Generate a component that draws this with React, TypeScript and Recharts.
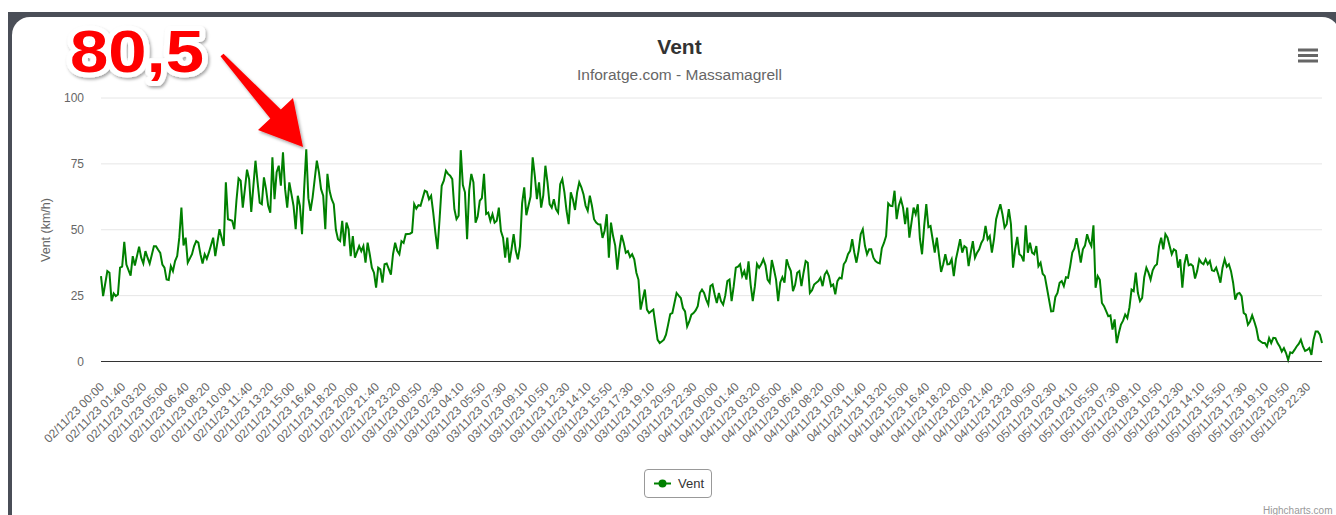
import React from 'react';
import { LineChart, Line, XAxis, YAxis, CartesianGrid } from 'recharts';

// [10-minute slot index, wind km/h]
const day02: [number, number][] = [
  [0, 32.4], [1, 24.8], [3, 34.3], [4, 33.7], [5, 22.9], [6, 25.8], [7, 24.8], [8, 25.4], [9, 35.6], [10, 36.0],
  [11, 45.4], [12, 36.8], [14, 32.6], [15, 40.0], [16, 36.4], [18, 43.6], [19, 39.4], [20, 37.2], [21, 41.9], [22, 39.4],
  [23, 37.2], [25, 43.7], [26, 43.7], [27, 42.4], [28, 41.2], [29, 36.8], [30, 35.6], [31, 31.1], [32, 30.9], [33, 36.2],
  [34, 34.3], [35, 38.1], [36, 40.0], [37, 47.0], [38, 58.4], [39, 44.0], [40, 47.0], [41, 37.5], [43, 40.7], [44, 43.8],
  [45, 45.7], [46, 45.1], [47, 40.7], [48, 37.2], [49, 40.7], [50, 39.0], [51, 41.4], [53, 47.0], [54, 40.0], [55, 45.1],
  [56, 50.2], [58, 43.8], [59, 68.0], [60, 54.0], [62, 53.4], [63, 50.2], [64, 61.0], [65, 69.5], [66, 68.6], [67, 58.4],
  [68, 65.4], [69, 72.8], [70, 69.2], [71, 56.8], [73, 76.2], [74, 68.0], [75, 60.3], [76, 59.7], [77, 69.9], [78, 65.4],
  [79, 59.1], [80, 56.5], [81, 77.5], [82, 61.6], [83, 71.8], [84, 74.3], [85, 66.7], [86, 79.4], [87, 65.4], [88, 58.4],
  [89, 68.0], [90, 63.5], [91, 59.0], [92, 50.2], [93, 62.9], [94, 59.1], [95, 48.3], [96, 65.4], [97, 80.5], [98, 62.0],
  [99, 57.2], [100, 62.3], [102, 76.2], [103, 71.8], [104, 65.4], [105, 62.9], [106, 50.2], [107, 71.2], [108, 64.8], [109, 61.6],
  [110, 59.7], [111, 50.0], [112, 46.4], [113, 45.7], [114, 53.4], [115, 43.8], [116, 52.7], [117, 50.2], [118, 40.0], [119, 47.6],
  [120, 39.4], [122, 43.8], [123, 41.9], [124, 43.8], [125, 37.5], [126, 45.1], [127, 40.7], [128, 35.6], [129, 33.7], [130, 28.0],
  [131, 35.6], [132, 35.0], [133, 29.9], [134, 36.9], [135, 37.2], [137, 33.0], [138, 40.7], [139, 45.1], [140, 42.0], [141, 40.7],
  [142, 45.7], [143, 45.0], [144, 48.3],
];

const day03: [number, number][] = [
  [146, 48.5], [147, 49.0], [148, 59.7], [149, 58.0], [150, 59.3], [151, 59.1], [153, 64.8], [154, 64.4], [155, 61.6], [156, 62.9],
  [157, 56.5], [158, 49.0], [159, 42.6], [160, 54.0], [161, 66.7], [162, 68.6], [163, 72.4], [164, 71.2], [165, 70.5], [166, 69.2],
  [167, 57.8], [168, 54.0], [169, 55.3], [170, 80.2], [171, 67.0], [172, 64.2], [173, 46.4], [174, 65.0], [175, 71.2], [176, 68.0],
  [177, 52.7], [178, 55.0], [179, 61.0], [180, 62.0], [181, 71.2], [182, 56.0], [183, 56.5], [184, 53.4], [185, 55.9], [186, 52.7],
  [187, 53.4], [188, 58.4], [189, 49.5], [190, 47.0], [191, 39.4], [192, 47.0], [193, 37.5], [194, 42.6], [195, 48.3], [196, 42.0],
  [197, 38.8], [198, 43.8], [199, 60.0], [200, 66.1], [201, 55.5], [202, 59.1], [203, 62.6], [204, 77.5], [205, 70.5], [206, 61.6],
  [207, 68.0], [208, 58.4], [209, 63.0], [210, 74.3], [211, 68.0], [212, 59.7], [213, 58.4], [214, 61.6], [215, 57.8], [216, 56.5],
  [217, 67.3], [218, 69.2], [219, 64.2], [220, 57.2], [221, 52.1], [222, 64.2], [223, 61.6], [224, 57.5], [225, 64.2], [226, 68.0],
  [227, 66.1], [228, 63.5], [229, 59.1], [230, 57.2], [231, 62.9], [232, 59.1], [233, 54.0], [234, 52.7], [235, 52.1], [236, 52.0],
  [237, 46.9], [238, 49.6], [239, 55.9], [240, 39.4], [241, 52.7], [242, 47.6], [243, 44.0], [244, 34.9], [245, 42.6], [246, 48.0],
  [247, 45.1], [248, 41.3], [249, 41.9], [250, 39.7], [251, 40.7], [252, 38.8], [253, 33.7], [254, 31.0], [255, 19.7], [256, 23.5],
  [257, 27.3], [258, 19.7], [259, 18.4], [260, 19.1], [261, 19.7], [262, 14.0], [263, 8.3], [264, 7.0], [265, 7.6], [266, 8.3],
  [267, 10.2], [268, 14.0], [269, 18.0], [270, 18.4], [271, 22.2], [272, 26.0], [273, 25.0], [274, 24.1], [275, 20.3], [276, 19.0],
  [277, 13.3], [278, 15.2], [279, 17.8], [280, 18.4], [281, 19.4], [282, 21.0], [283, 26.0], [284, 27.3], [285, 26.0], [286, 23.5],
  [287, 21.6], [288, 28.6], [289, 29.2],
];

const day04: [number, number][] = [
  [290, 25.4], [291, 22.2], [292, 26.0], [293, 22.9], [294, 21.6], [295, 25.0], [296, 30.5], [297, 31.1], [298, 22.9], [299, 28.6],
  [300, 35.6], [301, 36.0], [302, 36.9], [303, 32.4], [304, 34.3], [305, 31.1], [306, 38.0], [307, 29.2], [308, 22.9], [309, 28.6],
  [310, 37.0], [311, 35.6], [312, 36.9], [313, 38.8], [314, 36.5], [315, 31.1], [316, 29.9], [317, 38.5], [318, 35.0], [319, 31.1],
  [320, 22.9], [321, 30.0], [322, 32.0], [323, 29.9], [324, 38.8], [325, 36.2], [326, 34.3], [327, 26.7], [328, 29.0], [329, 33.7],
  [330, 34.3], [331, 28.6], [332, 33.7], [333, 38.1], [334, 37.5], [335, 26.0], [336, 27.0], [337, 29.2], [338, 29.9], [339, 30.5],
  [340, 31.8], [341, 28.6], [342, 33.0], [343, 34.3], [344, 32.4], [345, 28.6], [346, 29.2], [347, 25.5], [348, 30.5], [349, 31.8],
  [350, 31.5], [351, 36.9], [352, 38.1], [353, 40.7], [354, 42.0], [355, 46.4], [356, 41.3], [357, 37.5], [358, 42.0], [359, 48.3],
  [360, 50.2], [361, 44.0], [362, 40.7], [363, 42.6], [364, 42.6], [365, 39.4], [366, 38.1], [367, 37.5], [368, 37.2], [369, 43.0],
  [370, 45.0], [371, 47.6], [372, 60.0], [373, 59.1], [374, 59.0], [375, 64.8], [376, 54.0], [377, 59.1], [378, 61.6], [379, 58.5],
  [380, 52.1], [381, 58.4], [382, 47.0], [383, 52.7], [384, 58.4], [385, 55.9], [386, 59.7], [387, 46.5], [388, 40.7], [389, 51.4],
  [390, 59.7], [391, 51.0], [392, 51.4], [393, 46.4], [394, 41.3], [395, 47.0], [396, 40.4], [397, 34.0], [398, 36.9], [399, 40.7],
  [400, 36.9], [401, 37.0], [402, 38.8], [403, 32.4], [404, 38.8], [405, 42.5], [406, 46.4], [407, 41.3], [408, 43.8], [409, 43.2],
  [410, 36.2], [411, 41.3], [412, 45.7], [413, 39.4], [414, 41.3], [415, 42.6], [416, 45.0], [417, 46.4], [418, 51.5], [419, 46.4],
  [420, 47.6], [421, 41.3], [422, 46.4], [423, 54.0], [424, 57.0], [425, 59.7], [426, 55.9], [427, 50.8], [428, 52.1], [429, 57.8],
  [430, 52.1], [431, 35.6], [432, 42.6], [433, 47.3], [434, 40.7],
];

const day05: [number, number][] = [
  [435, 40.0], [436, 38.0], [437, 51.7], [438, 41.3], [439, 45.1], [440, 41.3], [441, 40.7], [442, 43.8], [443, 36.2], [444, 37.5],
  [445, 33.3], [446, 32.4], [447, 28.0], [448, 23.5], [449, 19.0], [450, 19.1], [451, 24.5], [452, 26.0], [453, 29.9], [454, 30.5],
  [455, 28.6], [456, 32.0], [457, 31.8], [458, 36.2], [459, 41.3], [460, 42.9], [461, 46.8], [462, 42.6], [463, 37.5], [464, 42.6],
  [465, 44.0], [466, 48.3], [467, 45.5], [468, 43.8], [469, 51.7], [470, 28.0], [471, 32.4], [472, 31.0], [473, 22.2], [474, 21.0],
  [475, 19.1], [476, 17.2], [477, 17.5], [478, 12.1], [479, 16.0], [480, 7.0], [481, 10.8], [482, 14.0], [483, 15.5], [484, 17.8],
  [485, 16.5], [486, 20.5], [487, 27.3], [488, 26.7], [489, 33.7], [490, 26.0], [491, 22.9], [492, 24.1], [493, 32.0], [494, 35.6],
  [495, 33.7], [496, 31.1], [497, 34.6], [498, 36.2], [499, 36.9], [500, 43.8], [501, 47.0], [502, 42.6], [503, 48.3], [504, 47.0],
  [505, 43.8], [506, 40.7], [507, 42.6], [508, 42.0], [509, 35.6], [510, 38.8], [511, 28.0], [512, 36.9], [513, 40.7], [514, 36.5],
  [515, 36.9], [516, 36.2], [517, 31.5], [518, 34.3], [519, 38.8], [520, 37.5], [521, 36.9], [522, 38.8], [523, 36.9], [524, 38.1],
  [525, 34.6], [526, 34.3], [527, 35.6], [528, 33.0], [529, 29.9], [530, 35.6], [531, 38.8], [532, 36.0], [533, 36.9], [534, 34.3],
  [535, 29.9], [536, 23.5], [537, 25.7], [538, 26.0], [539, 24.8], [540, 18.4], [541, 17.8], [542, 14.0], [543, 15.2], [544, 17.5],
  [545, 15.2], [546, 12.5], [547, 8.3], [548, 7.6], [549, 7.0], [550, 7.0], [551, 5.7], [552, 8.9], [553, 7.0], [554, 9.0],
  [555, 8.9], [556, 7.0], [557, 5.7], [558, 3.8], [559, 5.1], [560, 3.2], [561, 0.6], [562, 3.5], [563, 3.2], [564, 4.4],
  [565, 5.7], [566, 6.7], [567, 8.3], [568, 5.7], [569, 4.0], [570, 4.4], [571, 5.1], [572, 2.5], [573, 8.3], [574, 11.4],
  [575, 11.4], [576, 10.2], [577, 7.0],
];

const tickLabels: string[] = [
  '02/11/23 00:00', '02/11/23 01:40', '02/11/23 03:20', '02/11/23 05:00', '02/11/23 06:40', '02/11/23 08:20',
  '02/11/23 10:00', '02/11/23 11:40', '02/11/23 13:20', '02/11/23 15:00', '02/11/23 16:40', '02/11/23 18:20',
  '02/11/23 20:00', '02/11/23 21:40', '02/11/23 23:20',
  '03/11/23 00:50', '03/11/23 02:30', '03/11/23 04:10', '03/11/23 05:50', '03/11/23 07:30', '03/11/23 09:10',
  '03/11/23 10:50', '03/11/23 12:30', '03/11/23 14:10', '03/11/23 15:50', '03/11/23 17:30', '03/11/23 19:10',
  '03/11/23 20:50', '03/11/23 22:30',
  '04/11/23 00:00', '04/11/23 01:40', '04/11/23 03:20', '04/11/23 05:00', '04/11/23 06:40', '04/11/23 08:20',
  '04/11/23 10:00', '04/11/23 11:40', '04/11/23 13:20', '04/11/23 15:00', '04/11/23 16:40', '04/11/23 18:20',
  '04/11/23 20:00', '04/11/23 21:40', '04/11/23 23:20',
  '05/11/23 00:50', '05/11/23 02:30', '05/11/23 04:10', '05/11/23 05:50', '05/11/23 07:30', '05/11/23 09:10',
  '05/11/23 10:50', '05/11/23 12:30', '05/11/23 14:10', '05/11/23 15:50', '05/11/23 17:30', '05/11/23 19:10',
  '05/11/23 20:50', '05/11/23 22:30',
];
const tickStep = 10;
const lastSlot = 577;
const yTicks = [0, 25, 50, 75, 100];
const peakLabel = '80,5';

const data = [...day02, ...day03, ...day04, ...day05].map(([slot, speed]) => ({ slot, speed }));
const tickSlots = tickLabels.map((_, i) => i * tickStep);

const FONT = '"Liberation Sans", Arial, Helvetica, sans-serif';

function SlantTick(props: any) {
  const { x, y, payload } = props;
  const label = tickLabels[Math.round(payload.value / tickStep)] ?? '';
  const ax = x + 4;
  const ay = y + 26;
  return (
    <text
      x={ax}
      y={ay}
      transform={`rotate(-45 ${ax} ${ay})`}
      textAnchor="end"
      fontSize={12}
      fill="#666666"
      fontFamily={FONT}
    >
      {label}
    </text>
  );
}

export default function App() {
  return (
    <div
      style={{
        position: 'fixed',
        left: 0,
        top: 0,
        width: 1336,
        height: 515,
        overflow: 'hidden',
        background: '#ffffff',
        fontFamily: FONT,
      }}
    >
      <div style={{ position: 'absolute', left: 8, top: 12, width: 1400, height: 600, background: '#4a4e57' }} />
      <div
        style={{
          position: 'absolute',
          left: 12,
          top: 17,
          width: 1328,
          height: 600,
          background: '#ffffff',
          borderTopLeftRadius: 18,
          borderTopRightRadius: 18,
        }}
      />
      <div style={{ position: 'absolute', left: 0, top: 0 }}>
        <LineChart
          width={1336}
          height={515}
          data={data}
          margin={{ top: 98, right: 14, bottom: 0, left: 0 }}
          style={{ fontFamily: FONT }}
        >
          <CartesianGrid vertical={false} stroke="#e6e6e6" />
          <XAxis
            dataKey="slot"
            type="number"
            domain={[0, lastSlot]}
            ticks={tickSlots}
            interval={0}
            height={153.5}
            tickLine={false}
            tickSize={0}
            tickMargin={0}
            axisLine={{ stroke: '#333333', strokeWidth: 1 }}
            tick={<SlantTick />}
          />
          <YAxis
            type="number"
            domain={[0, 100]}
            ticks={yTicks}
            width={101}
            axisLine={false}
            tickLine={false}
            tickSize={0}
            tickMargin={17}
            tick={{ fill: '#666666', fontSize: 12, fontFamily: FONT }}
          />
          <Line
            type="linear"
            dataKey="speed"
            stroke="#008000"
            strokeWidth={2}
            dot={false}
            activeDot={false}
            isAnimationActive={false}
          />
        </LineChart>
      </div>

      {/* Title & subtitle */}
      <div
        style={{
          position: 'absolute',
          left: 679.5,
          top: 35,
          transform: 'translateX(-50%)',
          fontSize: 21,
          lineHeight: '24px',
          fontWeight: 'bold',
          color: '#333333',
          whiteSpace: 'nowrap',
        }}
      >
        Vent
      </div>
      <div
        style={{
          position: 'absolute',
          left: 679.5,
          top: 66,
          transform: 'translateX(-50%)',
          fontSize: 15.5,
          lineHeight: '18px',
          color: '#666666',
          whiteSpace: 'nowrap',
        }}
      >
        Inforatge.com - Massamagrell
      </div>

      {/* Y axis title */}
      <div
        style={{
          position: 'absolute',
          left: 46,
          top: 230,
          transform: 'translate(-50%, -50%) rotate(-90deg)',
          fontSize: 12.5,
          lineHeight: '14px',
          color: '#666666',
          whiteSpace: 'nowrap',
        }}
      >
        Vent (km/h)
      </div>

      {/* Legend */}
      <div
        style={{
          position: 'absolute',
          left: 644,
          top: 469,
          width: 66,
          height: 27,
          border: '1px solid #999999',
          borderRadius: 4,
          boxSizing: 'content-box',
        }}
      >
        <svg width={30} height={27} style={{ position: 'absolute', left: 0, top: 0 }}>
          <line x1={9} y1={13.5} x2={26} y2={13.5} stroke="#008000" strokeWidth={2} />
          <circle cx={17.5} cy={13.5} r={4} fill="#008000" />
        </svg>
        <div
          style={{
            position: 'absolute',
            left: 33,
            top: 6,
            fontSize: 13,
            lineHeight: '15px',
            color: '#333333',
          }}
        >
          Vent
        </div>
      </div>

      {/* Credits */}
      <div
        style={{
          position: 'absolute',
          left: 1263,
          top: 505,
          fontSize: 10,
          lineHeight: '12px',
          color: '#999999',
          whiteSpace: 'nowrap',
        }}
      >
        Highcharts.com
      </div>

      {/* Menu icon + annotation */}
      <svg width={1336} height={515} style={{ position: 'absolute', left: 0, top: 0, pointerEvents: 'none' }}>
        <defs>
          <filter id="shadow" x="-20%" y="-20%" width="140%" height="140%">
            <feDropShadow dx="1.5" dy="2" stdDeviation="1.5" floodColor="#000000" floodOpacity="0.35" />
          </filter>
        </defs>
        <rect x={1298} y={48.5} width={20} height={3} fill="#666666" />
        <rect x={1298} y={54} width={20} height={3} fill="#666666" />
        <rect x={1298} y={59.5} width={20} height={3} fill="#666666" />

        <polygon
          points="220.5,56.3 223.5,53.7 280.8,109.4 293,98 303,147 258,130 270.3,118.6"
          fill="#ff0000"
          filter="url(#shadow)"
        />
        <text
          x={70}
          y={72}
          fontSize={59}
          fontWeight="bold"
          fontFamily={FONT}
          fill="#ff0000"
          stroke="#ffffff"
          strokeWidth={10}
          strokeLinejoin="round"
          paintOrder="stroke"
          textLength={134}
          lengthAdjust="spacingAndGlyphs"
          filter="url(#shadow)"
        >
          {peakLabel}
        </text>
      </svg>
    </div>
  );
}
